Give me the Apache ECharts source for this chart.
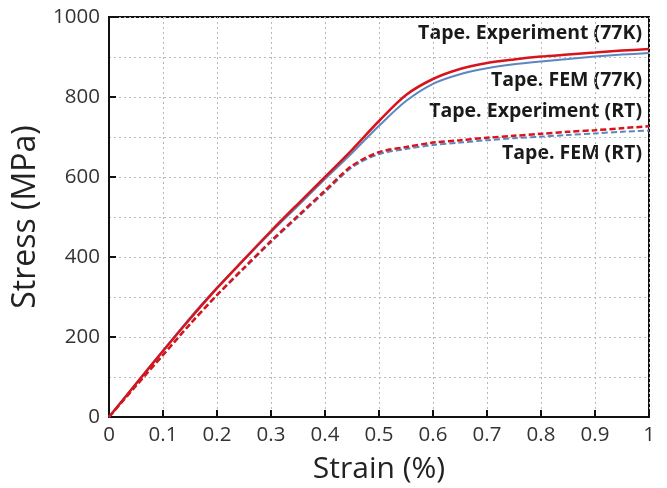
<!DOCTYPE html>
<html>
<head>
<meta charset="utf-8">
<script src="https://cdn.jsdelivr.net/npm/echarts@6/dist/echarts.min.js"></script>
<style>html,body{margin:0;padding:0;background:#fff;}#c{width:667px;height:488px;}</style>
</head>
<body>
<div id="c"></div>
<script>
const strain = [0, 0.05, 0.1, 0.15, 0.2, 0.25, 0.3, 0.35, 0.4, 0.45, 0.5, 0.55, 0.6, 0.65, 0.7, 0.75, 0.8, 0.85, 0.9, 0.95, 1.0];
const exp77K = [0, 83, 165, 245, 322, 394, 465, 533, 600, 668, 740, 805, 845, 870, 885, 894, 901, 906, 911, 916, 920];
const fem77K = [0, 83, 166, 248, 323, 393, 462, 528, 595, 660, 728, 790, 833, 857, 872, 882, 889, 895, 901, 906, 910];
const expRT  = [0, 78, 155, 232, 305, 373, 440, 503, 566, 628, 662, 675, 686, 692, 698, 703, 708, 713, 717, 722, 727];
const femRT  = [0, 78, 155, 232, 304, 371, 437, 500, 562, 624, 657, 670, 680, 686, 692, 697, 701, 705, 709, 713, 716];
const yTicks = [0, 200, 400, 600, 800, 1000];
const labels = ['Tape. Experiment (77K)', 'Tape. FEM (77K)', 'Tape. Experiment (RT)', 'Tape. FEM (RT)'];

const RED = '#d7141c', BLUE = '#5b87c0';
function pts(ys){ return strain.map((x,i)=>[x, ys[i]]); }
const chart = echarts.init(document.getElementById('c'));
const gridLine = {show:true, lineStyle:{color:'#b8b8b8', type:[2,3], width:1}};
const labelYs = [33, 80, 111, 153];
chart.setOption({
  animation:false,
  backgroundColor:'#fff',
  grid:{left:109, right:18, top:17, bottom:71, containLabel:false, outerBoundsMode:'none',
    show:true, borderColor:'#111', borderWidth:2, backgroundColor:'transparent'},
  xAxis:{type:'value', min:0, max:1, interval:0.1,
    name:'Strain (%)', nameLocation:'middle', nameGap:37,
    nameTextStyle:{fontFamily:'Open Sans', fontSize:30, color:'#222'},
    axisLine:{show:true, lineStyle:{color:'#111', width:2}},
    axisTick:{show:true, inside:true, length:7, lineStyle:{color:'#111', width:2}},
    axisLabel:{fontFamily:'Open Sans', fontSize:20.5, color:'#333', margin:8},
    splitLine:gridLine},
  yAxis:{type:'value', min:0, max:1000, interval:200,
    name:'Stress (MPa)', nameLocation:'middle', nameGap:62,
    nameTextStyle:{fontFamily:'Open Sans', fontSize:32, color:'#222'},
    axisLine:{show:true, lineStyle:{color:'#111', width:2}},
    axisTick:{show:true, inside:true, length:7, lineStyle:{color:'#111', width:2}},
    axisLabel:{fontFamily:'Open Sans', fontSize:20.5, color:'#333', margin:9,
      formatter:v=> yTicks.includes(v) ? String(v) : ''},
    minorTick:{show:false, splitNumber:2},
    minorSplitLine:gridLine,
    splitLine:gridLine},
  graphic: labels.map((t,i)=>({type:'text', right:25, top:labelYs[i]-10,
    style:{text:t, font:'bold 19.5px "Open Sans"', fill:'#1a1a1a'}})),
  series:[
    {type:'line', data:pts(femRT), showSymbol:false, smooth:0.3, lineStyle:{color:BLUE, width:2, type:[6,3]}, z:2},
    {type:'line', data:pts(expRT), showSymbol:false, smooth:0.3, lineStyle:{color:RED, width:2.5, type:[6,3]}, z:3},
    {type:'line', data:pts(fem77K), showSymbol:false, smooth:0.3, lineStyle:{color:BLUE, width:2}, z:4},
    {type:'line', data:pts(exp77K), showSymbol:false, smooth:0.3, lineStyle:{color:RED, width:2.5}, z:5}
  ]
});
</script>
</body>
</html>
